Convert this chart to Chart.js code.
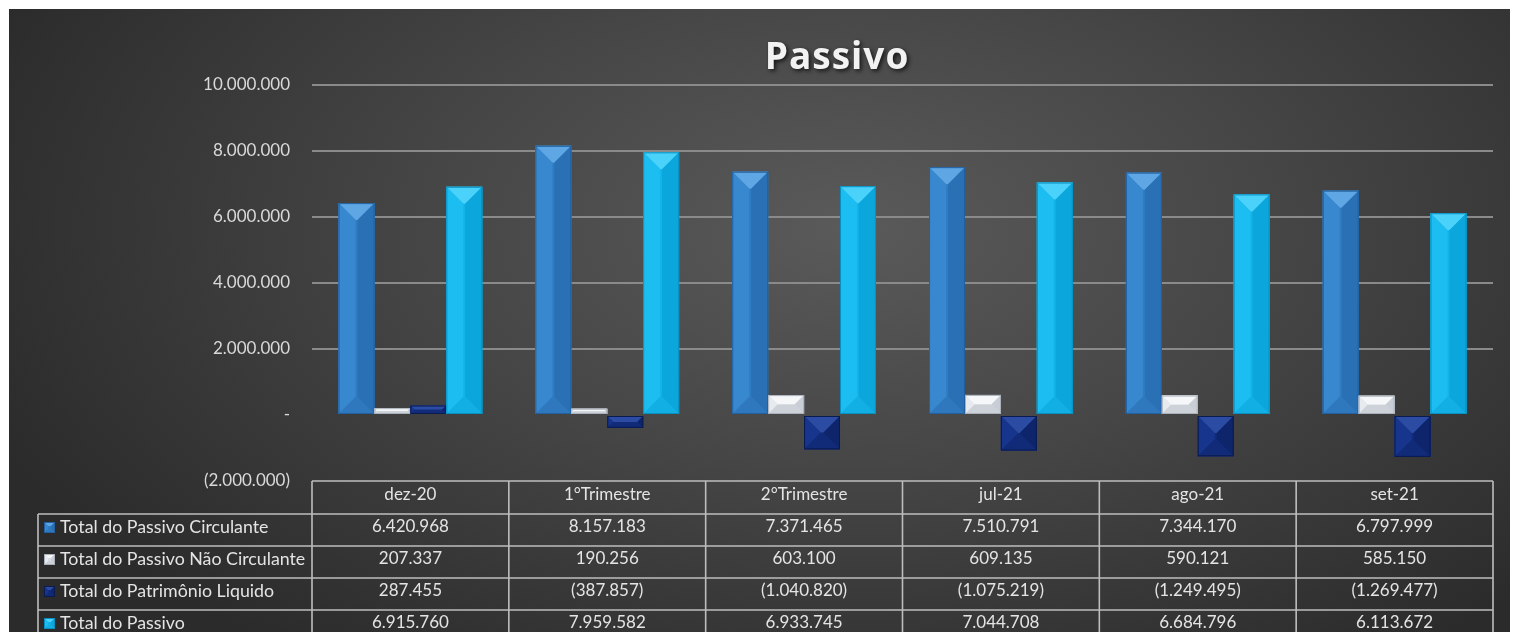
<!DOCTYPE html>
<html><head><meta charset="utf-8">
<script src="https://cdn.jsdelivr.net/npm/chart.js@4/dist/chart.umd.min.js"></script>
<style>
html,body{margin:0;padding:0;background:#fff;width:1513px;height:632px;overflow:hidden}
#wrap{position:absolute;left:9px;top:9px;width:1501px;height:623px;
background: radial-gradient(ellipse 62% 85% at 56% 35%, #5a5a5a 0%, #464646 45%, #2b2b2b 100%);}
canvas{display:block}
</style></head><body>
<div id="wrap"><canvas id="c" width="1501" height="623"></canvas></div>
<script>
const categories = ['dez-20', '1°Trimestre', '2°Trimestre', 'jul-21', 'ago-21', 'set-21'];
const passivoCirculante = [6420968, 8157183, 7371465, 7510791, 7344170, 6797999];
const passivoNaoCirculante = [207337, 190256, 603100, 609135, 590121, 585150];
const patrimonioLiquido = [287455, -387857, -1040820, -1075219, -1249495, -1269477];
const totalPassivo = [6915760, 7959582, 6933745, 7044708, 6684796, 6113672];
const seriesNames = ['Total do Passivo Circulante', 'Total do Passivo Não Circulante', 'Total do Patrimônio Liquido', 'Total do Passivo'];
const yMin = -2000000, yMax = 10000000, yStep = 2000000;
const chartTitle = 'Passivo';

const palettes = [
  {base:'#2f7cc3', top:'#5ea6e4', left:'#3888cf', right:'#2a70b4', bottom:'#2f78bd', edge:'#22609f'},
  {base:'#d9dde3', top:'#f5f7f9', left:'#e7eaee', right:'#c9ced6', bottom:'#cdd2d9', edge:'#a9b0ba'},
  {base:'#112c7c', top:'#2c4ca3', left:'#17358c', right:'#0e256c', bottom:'#112b78', edge:'#0a1b50'},
  {base:'#12b3e9', top:'#4ad2fb', left:'#1cbdf1', right:'#0ba6db', bottom:'#12afe5', edge:'#0990c0'}
];
const seriesData = [passivoCirculante, passivoNaoCirculante, patrimonioLiquido, totalPassivo];

function fmt(v){
  if (v === 0) return '-';
  const s = Math.abs(Math.round(v)).toString().replace(/\B(?=(\d{3})+(?!\d))/g, '.');
  return v < 0 ? '(' + s + ')' : s;
}

function poly(ctx, pts, color){
  ctx.beginPath();
  ctx.moveTo(pts[0][0], pts[0][1]);
  for (let i = 1; i < pts.length; i++) ctx.lineTo(pts[i][0], pts[i][1]);
  ctx.closePath();
  ctx.fillStyle = color;
  ctx.fill();
}
function bevel(ctx, left, right, top, bottom, pal, maxD){
  const w = right - left, h = bottom - top;
  if (w <= 0 || h <= 0) return;
  const d = Math.min(w / 2, h / 2, maxD);
  const il = left + d, ir = right - d, it = top + d, ib = bottom - d;
  ctx.fillStyle = pal.base; ctx.fillRect(left, top, w, h);
  poly(ctx, [[left, top], [right, top], [ir, it], [il, it]], pal.top);
  poly(ctx, [[left, top], [il, it], [il, ib], [left, bottom]], pal.left);
  poly(ctx, [[right, top], [right, bottom], [ir, ib], [ir, it]], pal.right);
  poly(ctx, [[left, bottom], [il, ib], [ir, ib], [right, bottom]], pal.bottom);
  ctx.strokeStyle = pal.edge; ctx.lineWidth = 1;
  ctx.strokeRect(left + 0.5, top + 0.5, w - 1, h - 1);
}

const bevelPlugin = {
  id: 'bevel',
  afterDatasetsDraw(chart){
    const ctx = chart.ctx;
    ctx.save();
    chart.data.datasets.forEach((ds, di) => {
      const meta = chart.getDatasetMeta(di);
      meta.data.forEach(el => {
        const p = el.getProps(['x', 'y', 'base', 'width'], true);
        const left = p.x - p.width / 2, right = p.x + p.width / 2;
        const top = Math.min(p.y, p.base), bottom = Math.max(p.y, p.base);
        bevel(ctx, left, right, top, bottom, palettes[di], 17);
      });
    });
    ctx.restore();
  }
};

const titleTablePlugin = {
  id: 'titleTable',
  afterDraw(chart){
    const ctx = chart.ctx;
    const ca = chart.chartArea;
    const xs = chart.scales.x;
    ctx.save();
    // title
    ctx.font = 'bold 37px "Open Sans"';
    if ('letterSpacing' in ctx) ctx.letterSpacing = '1px';
    ctx.textAlign = 'center';
    ctx.textBaseline = 'alphabetic';
    ctx.shadowColor = 'rgba(0,0,0,0.7)';
    ctx.shadowBlur = 4; ctx.shadowOffsetX = 2; ctx.shadowOffsetY = 2;
    ctx.fillStyle = '#f2f2f2';
    ctx.fillText(chartTitle, 828, 60);
    ctx.shadowColor = 'transparent'; ctx.shadowBlur = 0; ctx.shadowOffsetX = 0; ctx.shadowOffsetY = 0;
    if ('letterSpacing' in ctx) ctx.letterSpacing = '0px';

    // table
    const n = categories.length;
    const colW = xs.width / n;
    const top = ca.bottom;
    const headH = 33, rowH = 32;
    const legendLeft = 29;
    const rowsTop = top + headH;
    const bottomY = rowsTop + rowH * seriesNames.length;
    ctx.strokeStyle = '#bdbdbd';
    ctx.lineWidth = 1.6;
    ctx.beginPath();
    ctx.moveTo(ca.left, top); ctx.lineTo(ca.right, top);
    for (let r = 0; r <= seriesNames.length; r++) {
      const y = rowsTop + r * rowH;
      ctx.moveTo(legendLeft, y); ctx.lineTo(ca.right, y);
    }
    for (let i = 0; i <= n; i++) {
      const x = xs.getPixelForValue(0) - colW / 2 + i * colW;
      ctx.moveTo(x, top); ctx.lineTo(x, bottomY);
    }
    ctx.moveTo(legendLeft, rowsTop); ctx.lineTo(legendLeft, bottomY);
    ctx.stroke();

    ctx.font = '17px Lato';
    ctx.fillStyle = '#e4e4e4';
    ctx.textBaseline = 'middle';
    ctx.textAlign = 'center';
    categories.forEach((c, i) => {
      ctx.fillText(c, xs.getPixelForValue(i), top + headH / 2 - 3);
    });
    seriesData.forEach((arr, r) => {
      const yc = rowsTop + r * rowH + rowH / 2 - 3;
      arr.forEach((v, i) => {
        ctx.fillText(fmt(v), xs.getPixelForValue(i), yc);
      });
    });
    ctx.textAlign = 'left';
    ctx.font = '17.8px Lato';
    seriesNames.forEach((name, r) => {
      const yc = rowsTop + r * rowH + rowH / 2 - 3;
      bevel(ctx, 35, 46, yc - 5, yc + 6, palettes[r], 4);
      ctx.fillStyle = '#e4e4e4';
      ctx.fillText(name, 51, yc);
    });
    ctx.restore();
  }
};

new Chart(document.getElementById('c'), {
  type: 'bar',
  data: {
    labels: categories,
    datasets: seriesNames.map((name, i) => ({
      label: name,
      data: seriesData[i],
      backgroundColor: palettes[i].base,
      borderWidth: 0,
      categoryPercentage: 0.73,
      barPercentage: 1.0
    }))
  },
  options: {
    responsive: false,
    animation: false,
    devicePixelRatio: 1,
    layout: { padding: { top: 76, right: 17, bottom: 151, left: 0 } },
    plugins: { legend: { display: false }, title: { display: false }, tooltip: { enabled: false } },
    scales: {
      x: { display: false },
      y: {
        min: yMin, max: yMax,
        afterFit(scale){ scale.width = 303; },
        ticks: {
          stepSize: yStep,
          padding: 22,
          color: '#d9d9d9',
          font: { family: 'Lato', size: 17 },
          callback: (v) => fmt(v)
        },
        border: { display: false },
        grid: {
          drawTicks: false,
          lineWidth: 2,
          color: (c) => (c.tick && (c.tick.value === 0 || c.tick.value === yMin)) ? 'rgba(0,0,0,0)' : '#8a8a8a'
        }
      }
    }
  },
  plugins: [bevelPlugin, titleTablePlugin]
});
</script>
</body></html>
